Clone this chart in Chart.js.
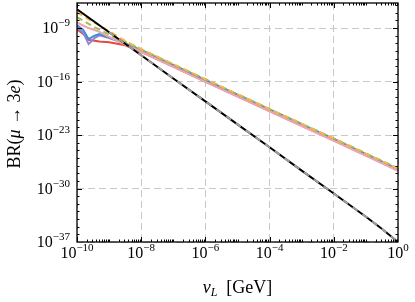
<!DOCTYPE html>
<html>
<head>
<meta charset="utf-8">
<script src="https://cdn.jsdelivr.net/npm/chart.js@4.4.1/dist/chart.umd.min.js"></script>
<style>
  body { margin: 0; background: #fff; }
</style>
</head>
<body>
<canvas id="brChart" width="415" height="302"></canvas>
<script>
// v_L grid (GeV) shared by the coloured curves
const vGrid = [1e-10, 1.6e-10, 2.3e-10, 3.5e-10, 5e-10, 1e-9, 3.2e-9, 1e-8, 1e-6, 1e-4, 1e-2, 1];

// BR(mu -> 3e) for the coloured curves
const brOrange = [1.1e-7, 3.5e-8, 1.4e-8, 5.0e-9, 2.2e-9, 4.0e-10, 2.0e-11, 1.8e-12, 2.0e-16, 2.5e-20, 3.5e-24, 4.0e-28];
const brGreen = [2.5e-8, 8.9e-9, 3.5e-9, 1.3e-9, 6.3e-10, 1.4e-10, 1.6e-11, 1.6e-12, 2.0e-16, 2.5e-20, 3.5e-24, 4.5e-28];
const brPink = [5.6e-9, 2.0e-9, 1.0e-9, 5.6e-10, 3.2e-10, 7.1e-11, 7.1e-12, 7.9e-13, 8.9e-17, 1.3e-20, 1.8e-24, 2.0e-28];
const brBlue = [2.5e-9, 5.0e-10, 3.5e-11, 1.0e-10, 1.6e-10, 6.3e-11, 1.0e-11, 1.3e-12, 1.6e-16, 2.2e-20, 3.2e-24, 3.5e-28];
const brPurple = [1.3e-9, 2.0e-10, 7.9e-12, 5.0e-11, 1.1e-10, 5.0e-11, 8.9e-12, 1.0e-12, 1.3e-16, 1.8e-20, 2.5e-24, 2.8e-28];
const brRed = [7.1e-10, 1.6e-10, 2.8e-11, 2.2e-11, 1.8e-11, 1.4e-11, 5.6e-12, 7.9e-13, 1.0e-16, 1.4e-20, 2.0e-24, 2.5e-28];

// black reference curve
const vBlack = [1e-10, 1e-9, 1e-8, 1e-7, 1e-6, 1e-5, 1e-4, 1e-3, 1e-2, 1e-1, 0.32, 1];
const brBlack = [2.8e-7, 2.8e-10, 2.8e-13, 2.5e-16, 2.5e-19, 2.5e-22, 2.5e-25, 2.2e-28, 2.2e-31, 2.0e-34, 5.0e-36, 1.0e-37];

// axes
const xTickExps = [-10, -8, -6, -4, -2, 0];
const yTickExps = [-37, -30, -23, -16, -9];
const xMin = 1e-10, xMax = 1;
const yMin = 1e-37, yMax = 1.9e-6;

const serif = "'Liberation Serif', 'DejaVu Serif', serif";

function toPoints(xs, ys) {
  return xs.map((x, i) => ({ x: x, y: ys[i] }));
}

function curve(xs, ys, color, dash) {
  return {
    data: toPoints(xs, ys),
    borderColor: color,
    borderWidth: 2,
    borderDash: dash || [],
    pointRadius: 0,
    fill: false,
    tension: 0,
  };
}

function drawPower(ctx, exp, x, y, align) {
  const sup = exp === 0 ? "0" : "\u2212" + Math.abs(exp);
  ctx.font = "16px " + serif;
  const bw = ctx.measureText("10").width;
  ctx.font = "11px " + serif;
  const sw = ctx.measureText(sup).width;
  const left = align === "right" ? x - bw - sw : x - (bw + sw) / 2;
  ctx.font = "16px " + serif;
  ctx.fillText("10", left, y);
  ctx.font = "11px " + serif;
  ctx.fillText(sup, left + bw, y - 7);
}

function drawRuns(ctx, runs, x, y) {
  let w = 0;
  runs.forEach((r) => {
    ctx.font = r[1];
    w += ctx.measureText(r[0]).width;
  });
  let cx = x - w / 2;
  runs.forEach((r) => {
    ctx.font = r[1];
    ctx.fillText(r[0], cx, y + (r[2] || 0));
    cx += ctx.measureText(r[0]).width;
  });
}

const axesDecor = {
  id: "axesDecor",
  afterDraw(chart) {
    const { ctx, chartArea: a, scales: { x, y } } = chart;
    ctx.save();
    ctx.strokeStyle = "#000";
    ctx.fillStyle = "#000";

    // inward ticks on all four sides
    ctx.lineWidth = 1;
    const tick = (px, py, dx, dy) => {
      ctx.beginPath();
      ctx.moveTo(px, py);
      ctx.lineTo(px + dx, py + dy);
      ctx.stroke();
    };
    for (let k = -10; k < 0; k++) {
      for (let m = 1; m < 10; m++) {
        const v = m * Math.pow(10, k);
        const major = m === 1 && k % 2 === 0;
        const len = major ? 5 : 2.5;
        const px = Math.round(x.getPixelForValue(v)) + 0.5;
        tick(px, a.bottom, 0, -len);
        tick(px, a.top, 0, len);
      }
    }
    for (let k = -36; k <= -6; k++) {
      const major = yTickExps.includes(k);
      const len = major ? 5 : 2.5;
      const py = Math.round(y.getPixelForValue(Math.pow(10, k))) + 0.5;
      tick(a.left, py, len, 0);
      tick(a.right, py, -len, 0);
    }

    // frame
    ctx.lineWidth = 1.3;
    ctx.strokeRect(a.left, a.top, a.right - a.left, a.bottom - a.top);

    // tick labels
    ctx.textBaseline = "alphabetic";
    ctx.textAlign = "left";
    xTickExps.forEach((e) => {
      drawPower(ctx, e, x.getPixelForValue(Math.pow(10, e)), a.bottom + 16, "center");
    });
    yTickExps.forEach((e) => {
      drawPower(ctx, e, 70, y.getPixelForValue(Math.pow(10, e)) + 5, "right");
    });

    // axis titles
    const roman = "18px " + serif;
    const italic = "italic 18px " + serif;
    drawRuns(ctx, [
      ["v", italic],
      ["L", "italic 12px " + serif, 3],
      ["  [GeV]", roman],
    ], (a.left + a.right) / 2, 293);

    ctx.translate(14, 124);
    ctx.rotate(-Math.PI / 2);
    drawRuns(ctx, [
      ["BR(", roman],
      ["\u03bc", italic],
      [" \u2192 3", roman],
      ["e", italic],
      [")", roman],
    ], 0, 6);
    ctx.restore();
  },
};

document.addEventListener("DOMContentLoaded", function () {
  const ctx = document.getElementById("brChart").getContext("2d");

  new Chart(ctx, {
    type: "line",
    data: {
      datasets: [
        curve(vBlack.slice(1), brBlack.slice(1), "#a0a0a0", [6, 6]),
        curve(vBlack, brBlack, "#000000"),
        curve(vGrid, brOrange, "#f7b54a", [6, 4]),
        curve(vGrid, brGreen, "#96c34a", [6, 4]),
        curve(vGrid, brPink, "#f2a2b0"),
        curve(vGrid, brBlue, "#3d8fd6"),
        curve(vGrid, brPurple, "#8f84e0"),
        curve(vGrid, brRed, "#e8483b"),
      ],
    },
    options: {
      responsive: false,
      devicePixelRatio: 1,
      animation: false,
      layout: { padding: { top: 3, right: 17, left: 0, bottom: 0 } },
      plugins: { legend: { display: false }, tooltip: { enabled: false } },
      scales: {
        x: {
          type: "logarithmic",
          min: xMin,
          max: xMax,
          ticks: { display: false },
          grid: { color: "#c8c8c8", lineWidth: 1, drawTicks: false },
          border: { display: false, dash: [7, 4] },
          afterBuildTicks: (s) => {
            s.ticks = xTickExps.map((e) => ({ value: Math.pow(10, e) }));
          },
          afterFit: (s) => {
            s.height = 60;
          },
        },
        y: {
          type: "logarithmic",
          min: yMin,
          max: yMax,
          ticks: { display: false },
          grid: { color: "#c8c8c8", lineWidth: 1, drawTicks: false },
          border: { display: false, dash: [7, 4] },
          afterBuildTicks: (s) => {
            s.ticks = yTickExps.map((e) => ({ value: Math.pow(10, e) }));
          },
          afterFit: (s) => {
            s.width = 77;
          },
        },
      },
    },
    plugins: [axesDecor],
  });
});
</script>
</body>
</html>
